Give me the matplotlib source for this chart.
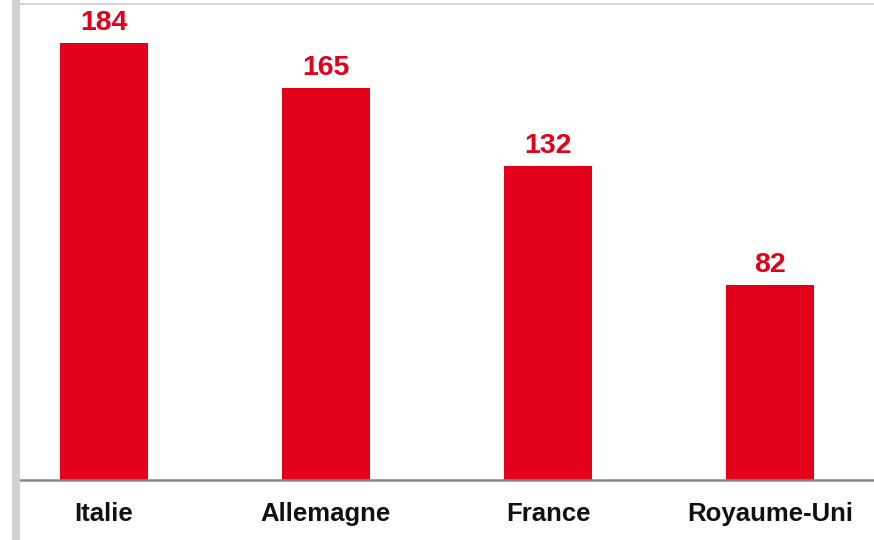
import matplotlib
matplotlib.use("Agg")
import matplotlib.pyplot as plt
from matplotlib.patches import Rectangle
from matplotlib.lines import Line2D

categories = ["Italie", "Allemagne", "France", "Royaume-Uni"]
values = [184, 165, 132, 82]

RED = "#E2001A"
W, H = 874, 540
fig = plt.figure(figsize=(W / 100, H / 100), dpi=100)
plt.rcParams['font.family'] = ['Liberation Sans', 'DejaVu Sans']

ax = fig.add_axes([20 / W, 60 / H, 854 / W, 476 / H])
x = list(range(len(categories)))
bars = ax.bar(x, values, width=0.4, color=RED, zorder=2)
ax.set_xlim(-0.378, 3.468)
ax.set_ylim(0, 200.3)

for xi, v in zip(x, values):
    ax.annotate(str(v), (xi, v), xytext=(0, 5), textcoords="offset points",
                ha="center", va="bottom", color=RED, fontsize=20.5, fontweight="bold")

ax.set_xticks(x)
ax.set_xticklabels(categories, fontsize=18.5, fontweight="bold", color="#111111")
ax.tick_params(axis="x", length=0, pad=16)
ax.set_yticks([])
for s in ["top", "right", "left"]:
    ax.spines[s].set_visible(False)
ax.spines["bottom"].set_color("#888888")
ax.spines["bottom"].set_linewidth(1.8)
ax.spines["bottom"].set_zorder(3)

# left gray border strip and top thin line (screenshot frame)
fig.patches.append(Rectangle((12 / W, 0), 8 / W, 1, transform=fig.transFigure,
                             facecolor="#d2d2d2", edgecolor="none"))
fig.lines.append(Line2D([20 / W, 1], [1 - 4 / H, 1 - 4 / H], transform=fig.transFigure,
                        color="#cccccc", linewidth=1.2))

fig.savefig("out.png", dpi=100)
